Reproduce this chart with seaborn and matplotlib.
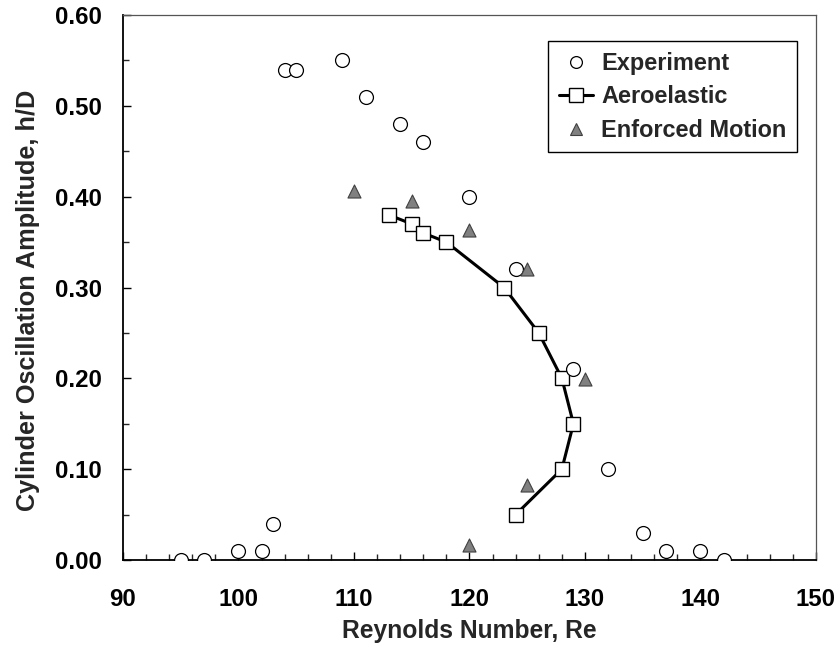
import matplotlib
matplotlib.use("Agg")
import matplotlib.pyplot as plt
from matplotlib.lines import Line2D
from matplotlib.ticker import MultipleLocator
import seaborn as sns
import pandas as pd

# Experimental measurements
exp_re = [95, 97, 100, 102, 103, 104, 105, 109, 111, 114, 116, 120, 124, 129, 132, 135, 137, 140, 142]
exp_amp = [0.00, 0.00, 0.01, 0.01, 0.04, 0.54, 0.54, 0.55, 0.51, 0.48, 0.46, 0.40, 0.32, 0.21, 0.10, 0.03, 0.01, 0.01, 0.00]

# Aeroelastic simulation (connected in computed order)
aero_re = [113, 115, 116, 118, 123, 126, 128, 129, 128, 124]
aero_amp = [0.38, 0.37, 0.36, 0.35, 0.30, 0.25, 0.20, 0.15, 0.10, 0.05]

# Enforced-motion simulation
enf_re = [110, 115, 120, 125, 130, 125, 120]
enf_amp = [0.406, 0.395, 0.363, 0.320, 0.199, 0.083, 0.017]

x_ticks = [90, 100, 110, 120, 130, 140, 150]
y_ticks = [0.0, 0.1, 0.2, 0.3, 0.4, 0.5, 0.6]

sns.set_theme(style="ticks")
plt.rcParams["font.family"] = ["Liberation Sans", "DejaVu Sans"]
plt.rcParams["font.weight"] = "bold"

df_exp = pd.DataFrame({"Re": exp_re, "h": exp_amp})
df_aero = pd.DataFrame({"Re": aero_re, "h": aero_amp})
df_enf = pd.DataFrame({"Re": enf_re, "h": enf_amp})

fig = plt.figure(figsize=(8.4, 6.48), dpi=100)
ax = fig.add_axes([0.1464, 0.1358, 0.825, 0.841])

sns.lineplot(data=df_aero, x="Re", y="h", sort=False, estimator=None, color="black",
             linewidth=2.2, marker="s", markersize=9.6, markerfacecolor="white",
             markeredgecolor="black", markeredgewidth=1.0, ax=ax, zorder=3, legend=False)
sns.scatterplot(data=df_exp, x="Re", y="h", marker="o", s=100, facecolor="white",
                edgecolor="black", linewidth=0.9, ax=ax, zorder=4, legend=False)
sns.scatterplot(data=df_enf, x="Re", y="h", marker="^", s=88, color="#808080",
                edgecolor="#404040", linewidth=0.8, ax=ax, zorder=4, legend=False)

ax.set_xlim(90, 150)
ax.set_ylim(0, 0.6)
ax.set_xticks(x_ticks)
ax.set_yticks(y_ticks)
ax.set_xticklabels([str(v) for v in x_ticks])
ax.set_yticklabels([f"{v:.2f}" for v in y_ticks])
ax.xaxis.set_minor_locator(MultipleLocator(2))
ax.yaxis.set_minor_locator(MultipleLocator(0.05))

ax.tick_params(axis="both", which="major", direction="in", length=6, width=1.0,
               labelsize=17.3, colors="black")
ax.tick_params(axis="both", which="minor", direction="in", length=4, width=1.0)
ax.tick_params(axis="y", which="major", pad=15)
ax.tick_params(axis="x", which="major", pad=20)
ax.tick_params(top=False, right=False, which="both")
for lab in ax.get_xticklabels() + ax.get_yticklabels():
    lab.set_fontweight("bold")

for side in ["left", "bottom"]:
    ax.spines[side].set_color("black")
    ax.spines[side].set_linewidth(1.3)
for side in ["top", "right"]:
    ax.spines[side].set_color("#555555")
    ax.spines[side].set_linewidth(0.9)

ax.set_xlabel("Reynolds Number, Re", fontsize=17.7, fontweight="bold", labelpad=6)
ax.set_ylabel("Cylinder Oscillation Amplitude, h/D", fontsize=18.2, fontweight="bold")
ax.yaxis.set_label_coords(-0.120, 0.477)

handles = [
    Line2D([], [], linestyle="none", marker="o", markersize=8.5, markerfacecolor="white",
           markeredgecolor="black", markeredgewidth=0.9),
    Line2D([], [], color="black", linewidth=2.2, marker="s", markersize=9.5,
           markerfacecolor="white", markeredgecolor="black", markeredgewidth=1.0),
    Line2D([], [], linestyle="none", marker="^", markersize=9, markerfacecolor="#808080",
           markeredgecolor="#404040", markeredgewidth=0.8),
]
labels = ["Experiment", "Aeroelastic", "Enforced Motion"]
leg = ax.legend(handles, labels, loc="upper right", bbox_to_anchor=(0.9726, 0.952),
                borderaxespad=0, frameon=True, fancybox=False, framealpha=1,
                edgecolor="black", prop={"size": 16.9, "weight": "bold"},
                handlelength=1.45, handletextpad=0.35, labelspacing=0.45,
                borderpad=0.45)
leg.get_frame().set_linewidth(1.0)

fig.savefig("out.png", dpi=100, facecolor="white")
